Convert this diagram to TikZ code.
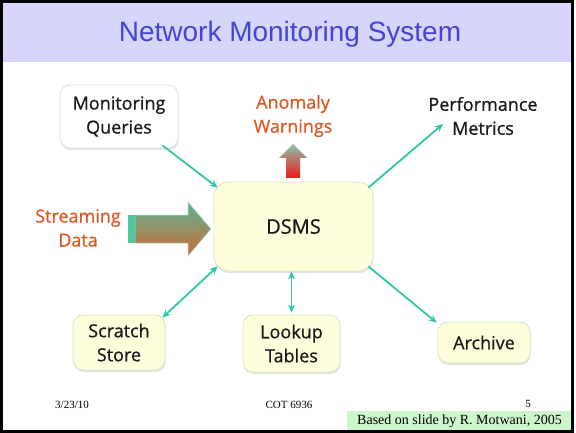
\documentclass[tikz,border=0pt]{standalone}
\usepackage{fontspec}
\setmainfont{Liberation Serif}
\newfontfamily\handfont[FakeBold=0.7]{Open Sans}
\newfontfamily\headfont{Liberation Sans}
\usetikzlibrary{arrows.meta,calc,shadows}

\definecolor{bandblue}{HTML}{D6D6FA}
\definecolor{titleblue}{HTML}{4444D6}
\definecolor{boxyellow}{HTML}{FEFEDC}
\definecolor{boxedge}{HTML}{D9E6C4}
\definecolor{linkteal}{HTML}{2EC8A6}
\definecolor{warnorange}{HTML}{DA5822}
\definecolor{notegreen}{HTML}{CCF7CC}
\definecolor{streamtop}{HTML}{5BB492}
\definecolor{streambot}{HTML}{CE6A38}
\definecolor{streamcap}{HTML}{4FC8A2}
\definecolor{warntop}{HTML}{8CC4B0}
\definecolor{warnbot}{HTML}{F01818}

\tikzset{
  box/.style={draw=boxedge, line width=0.8pt, fill=boxyellow, rounded corners=10pt,
    drop shadow={opacity=0.22, shadow xshift=0.6pt, shadow yshift=-2pt},
    font=\handfont\fontsize{18}{24}\selectfont, text=black!90, align=center, inner sep=0pt},
  plain/.style={font=\handfont\fontsize{18}{24}\selectfont, text=black!90, align=center, inner sep=1pt},
  link/.style={draw=linkteal, line width=1.8pt, -{Stealth[length=8pt,width=7pt]}},
  biglink/.style={draw=linkteal, line width=1.8pt,
    {Stealth[length=8pt,width=7pt]}-{Stealth[length=8pt,width=7pt]}},
  foot/.style={font=\fontsize{11}{13}\selectfont, inner sep=0pt}
}

\begin{document}
\begin{tikzpicture}[x=1pt,y=-1pt]
\useasboundingbox (0,0) rectangle (576,433);
\fill[white] (0,0) rectangle (576,433);

% title band
\fill[bandblue] (3,3) rectangle (571,62);
\node[font=\headfont\fontsize{28}{34}\selectfont, text=titleblue] (title) at (290,34) {Network Monitoring System};

% central system
\node[box, rounded corners=15pt, minimum width=159pt, minimum height=89pt,
      font=\handfont\fontsize{20}{24}\selectfont] (dsms) at (293.5,226.5) {DSMS};

% inputs and outputs
\node[box, fill=white, draw=black!12, minimum width=118pt, minimum height=63pt] (mq) at (119,116.5) {Monitoring\\Queries};
\node[plain, text=warnorange] (warn) at (293,116) {Anomaly\\Warnings};
\node[plain] (perf) at (483,116) {Performance\\Metrics};
\node[plain, text=warnorange] (stream) at (78,228) {Streaming\\Data};

% storage
\node[box, minimum width=92pt, minimum height=55pt] (scratch) at (119,342.5) {Scratch\\Store};
\node[box, minimum width=97pt, minimum height=57pt] (lookup) at (291.5,343.5) {Lookup\\Tables};
\node[box, minimum width=92pt, minimum height=41pt] (archive) at (484,342.5) {Archive};

% connectors
\draw[link] ($(mq.south east)+(-16,-3)$) -- ($(dsms.north west)+(4,6)$);
\draw[link] ($(dsms.north east)+(-5,6)$) -- ($(perf.center)+(-40,8)$);
\draw[biglink] ($(dsms.south west)+(4,-5)$) -- ($(scratch.north east)+(-3,3)$);
\draw[biglink] (lookup.north |- dsms.south) -- ($(lookup.north)+(0,-2)$);
\draw[link] ($(dsms.south east)+(-5,-5)$) -- ($(archive.north west)+(-1,1)$);

% streaming data block arrow
\path[top color=streamtop, bottom color=streambot, draw=streamcap!50, line width=0.5pt]
  (135,215) -- (188,215) -- (188,202) -- (211,229) -- (188,256) -- (188,243) -- (135,243) -- cycle;
\fill[streamcap] (128,215) rectangle (135,243);

% anomaly warning block arrow
\path[top color=warntop, bottom color=warnbot]
  (286,178) -- (286,158) -- (279,158) -- (293,144) -- (307,158) -- (300,158) -- (300,178) -- cycle;

% footer
\node[foot] (date) at (72,405) {3/23/10};
\node[foot] (course) at (289,405) {COT 6936};
\node[foot] (page) at (528,404) {5};
\node[fill=notegreen, minimum width=225pt, minimum height=20pt, inner sep=0pt,
      font=\fontsize{14}{16}\selectfont] (note) at (459.5,421) {Based on slide by R. Motwani, 2005};

% slide frame
\draw[line width=3pt] (1.5,1.5) rectangle (572,431);
\end{tikzpicture}
\end{document}
